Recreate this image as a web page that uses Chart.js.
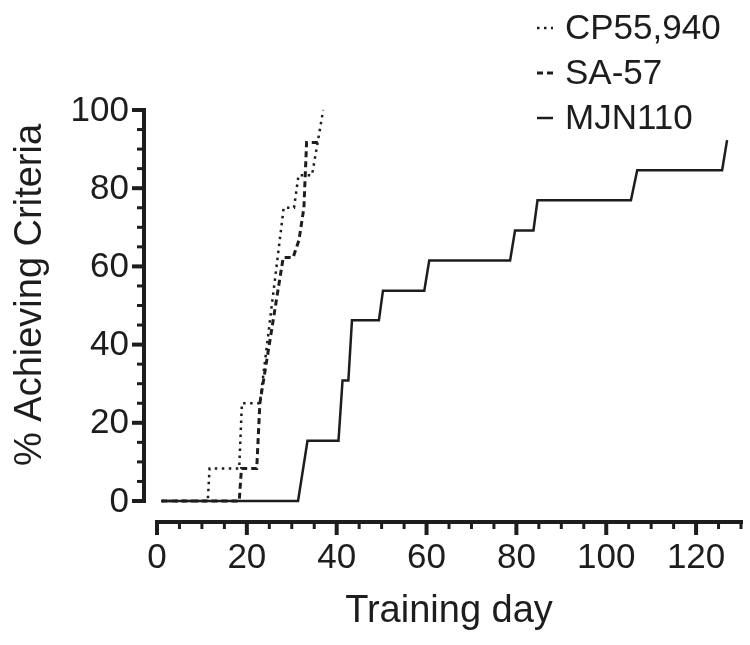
<!DOCTYPE html>
<html>
<head>
<meta charset="utf-8">
<script src="https://cdn.jsdelivr.net/npm/chart.js@4.4.1/dist/chart.umd.min.js"></script>
<style>
  html, body { margin: 0; padding: 0; background: #fff; }
  #wrap { width: 750px; height: 645px; }
</style>
</head>
<body>
<div id="wrap"><canvas id="myChart1" width="750" height="645"></canvas></div>
<script>
// values (training day, % of animals achieving criteria)
const cpDays  = [1, 11.3, 11.7, 18.3, 18.9, 22.9, 28.2, 30.5, 31.5, 34.5, 37];
const cpPct   = [0, 0, 8.3, 8.3, 25, 25, 75, 75, 83.3, 83.3, 100];

const saDays  = [1, 18.3, 18.8, 22.2, 22.9, 28.1, 30.3, 31.6, 32.7, 33.3, 36];
const saPct   = [0, 0, 8.3, 8.3, 25, 62.3, 62.3, 66.7, 75, 91.7, 91.7];

const mjnDays = [1, 31.4, 33.5, 40.4, 41.3, 42.6, 43.4, 49.4, 50.3, 59.5, 60.6, 78.6, 79.7, 83.8, 84.7, 105.5, 106.9, 125.8, 126.9];
const mjnPct  = [0, 0, 15.4, 15.4, 30.8, 30.8, 46.2, 46.2, 53.8, 53.8, 61.5, 61.5, 69.2, 69.2, 76.9, 76.9, 84.6, 84.6, 92.3];

const seriesNames = ['CP55,940', 'SA-57', 'MJN110'];
const xTicks = [0, 20, 40, 60, 80, 100, 120];
const yTicks = [0, 20, 40, 60, 80, 100];
const xMax = 130;
const xTitle = 'Training day';
const yTitle = '% Achieving Criteria';

const ink = '#1d1d1d';
const fontFam = '"Liberation Sans", Arial, sans-serif';

function toPoints(days, pct) {
  return days.map((d, i) => ({ x: d, y: pct[i] }));
}

// GraphPad style offset axes, drawn from the chart's own scales
const prismAxes = {
  id: 'prismAxes',
  afterDraw(chart) {
    const c = chart.ctx;
    const xs = chart.scales.x, ys = chart.scales.y;
    const y0 = ys.getPixelForValue(0), yTop = ys.getPixelForValue(100);
    const x0 = xs.getPixelForValue(0), xEnd = xs.getPixelForValue(xMax);
    const yAxisX = x0 - 13;
    const xAxisY = y0 + 21;

    c.save();
    c.strokeStyle = ink;
    c.fillStyle = ink;
    c.lineCap = 'butt';

    // y axis
    c.lineWidth = 4;
    c.beginPath();
    c.moveTo(yAxisX, yTop - 2);
    c.lineTo(yAxisX, y0 + 2);
    c.stroke();
    for (let v = 0; v <= 100; v += 5) {
      const py = ys.getPixelForValue(v);
      const major = v % 20 === 0;
      c.lineWidth = major ? 4 : 3;
      c.beginPath();
      c.moveTo(yAxisX, py);
      c.lineTo(yAxisX - (major ? 12 : 7), py);
      c.stroke();
    }

    // x axis
    c.lineWidth = 4;
    c.beginPath();
    c.moveTo(x0 - 2, xAxisY);
    c.lineTo(xEnd + 2, xAxisY);
    c.stroke();
    for (let v = 0; v <= xMax; v += 5) {
      const px = xs.getPixelForValue(v);
      const major = v % 20 === 0;
      c.lineWidth = major ? 4 : 3;
      c.beginPath();
      c.moveTo(px, xAxisY);
      c.lineTo(px, xAxisY + (major ? 13 : 7));
      c.stroke();
    }

    // tick labels
    c.font = '35px ' + fontFam;
    c.textAlign = 'right';
    c.textBaseline = 'middle';
    yTicks.forEach(v => c.fillText(String(v), yAxisX - 15, ys.getPixelForValue(v) + 1));
    c.textAlign = 'center';
    c.textBaseline = 'top';
    xTicks.forEach(v => c.fillText(String(v), xs.getPixelForValue(v), xAxisY + 19));

    // axis titles
    c.font = '38px ' + fontFam;
    c.textBaseline = 'middle';
    c.fillText(xTitle, (x0 + xEnd) / 2, 612);
    c.save();
    c.translate(31, 295);
    c.rotate(-Math.PI / 2);
    c.fillText(yTitle, 0, 0);
    c.restore();

    // legend
    c.font = '35px ' + fontFam;
    c.textAlign = 'left';
    const rowsY = [28, 73, 118];
    chart.data.datasets.forEach((ds, i) => {
      const ly = rowsY[i];
      c.lineWidth = ds.borderWidth;
      c.setLineDash(ds.borderDash || []);
      c.beginPath();
      c.moveTo(537, ly);
      c.lineTo(553, ly);
      c.stroke();
      c.setLineDash([]);
      c.fillText(ds.label, 565, ly + 1);
    });
    c.restore();
  }
};

new Chart(document.getElementById('myChart1'), {
  type: 'line',
  data: {
    datasets: [
      {
        label: seriesNames[0],
        data: toPoints(cpDays, cpPct),
        borderColor: ink,
        borderWidth: 2.5,
        borderDash: [2.5, 4.5],
        clip: false
      },
      {
        label: seriesNames[1],
        data: toPoints(saDays, saPct),
        borderColor: ink,
        borderWidth: 3,
        borderDash: [6, 4],
        clip: false
      },
      {
        label: seriesNames[2],
        data: toPoints(mjnDays, mjnPct),
        borderColor: ink,
        borderWidth: 2.5,
        clip: false
      }
    ]
  },
  options: {
    responsive: false,
    animation: false,
    layout: { padding: { left: 157, right: 9, top: 110, bottom: 144 } },
    elements: { point: { radius: 0 }, line: { tension: 0 } },
    scales: {
      x: { type: 'linear', min: 0, max: xMax, display: false },
      y: { min: 0, max: 100, display: false }
    },
    plugins: { legend: { display: false }, tooltip: { enabled: false } }
  },
  plugins: [prismAxes]
});
</script>
</body>
</html>
